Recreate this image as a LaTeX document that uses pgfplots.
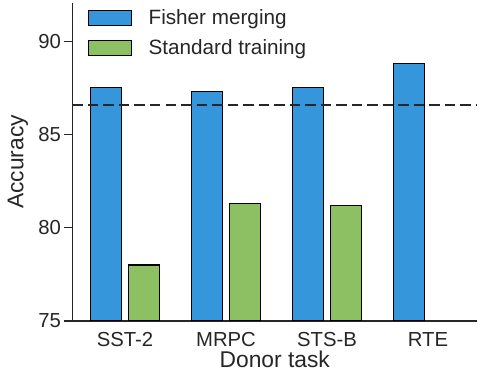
\documentclass[border=0pt]{standalone}
\usepackage{fontspec}
\setmainfont{Liberation Sans}
\usepackage{pgfplots}
\pgfplotsset{compat=1.18}
\definecolor{fblue}{RGB}{54,150,219}
\definecolor{sgreen}{RGB}{141,191,99}
\definecolor{axgray}{RGB}{38,38,38}
\begin{document}
\begin{tikzpicture}
\useasboundingbox (-72.5bp,-49.5bp) rectangle (405.5bp,321bp);
\begin{axis}[
  scale only axis,
  width=404.5bp, height=318bp,
  xmin=-0.52, xmax=3.485,
  ymin=75, ymax=92.05,
  axis x line*=bottom, axis y line*=left,
  axis line style={draw=axgray, line width=1.4bp},
  xtick={0,1,2,3},
  xticklabels={SST-2,MRPC,STS-B,RTE},
  ytick={75,80,85,90},
  tick align=outside,
  major tick length=8bp,
  x tick style={draw=none},
  y tick style={draw=axgray, line width=1.2bp},
  /pgf/number format/assume math mode=true,
  tick label style={font=\fontsize{20.3bp}{24bp}\selectfont, text=axgray},
  label style={font=\fontsize{22.8bp}{26bp}\selectfont, text=axgray},
  xlabel={Donor task},
  xlabel style={yshift=0bp, inner sep=1bp},
  ylabel={Accuracy},
  ylabel style={yshift=3.5bp},
  legend style={draw=none, fill=none, at={(0.038,0.985)}, anchor=north west,
    font=\fontsize{20.7bp}{24bp}\selectfont, text=axgray, inner sep=0pt,
    row sep=9.5bp},
  legend cell align=left,
  legend image code/.code={\draw[#1, draw=black, line width=1.1bp] (0bp,-7.5bp) rectangle (43bp,7.5bp);
    \path[draw=none, fill=none] (0bp,0bp) rectangle (58bp,0.1bp);},
]
\addplot[ybar, bar width=0.302, bar shift=0pt, fill=fblue, draw=black, line width=1.1bp]
  coordinates {(-0.187,87.5) (0.813,87.32) (1.813,87.5) (2.813,88.82)};
\addlegendentry{Fisher merging}
\addplot[ybar, bar width=0.302, bar shift=0pt, fill=sgreen, draw=black, line width=1.1bp]
  coordinates {(0.187,78.0) (1.187,81.32) (2.187,81.2)};
\addlegendentry{Standard training}
\addplot[forget plot, draw=axgray, line width=2bp, dash pattern=on 10.5bp off 5bp]
  coordinates {(-0.52,86.59) (3.485,86.59)};
\end{axis}
\end{tikzpicture}
\end{document}
